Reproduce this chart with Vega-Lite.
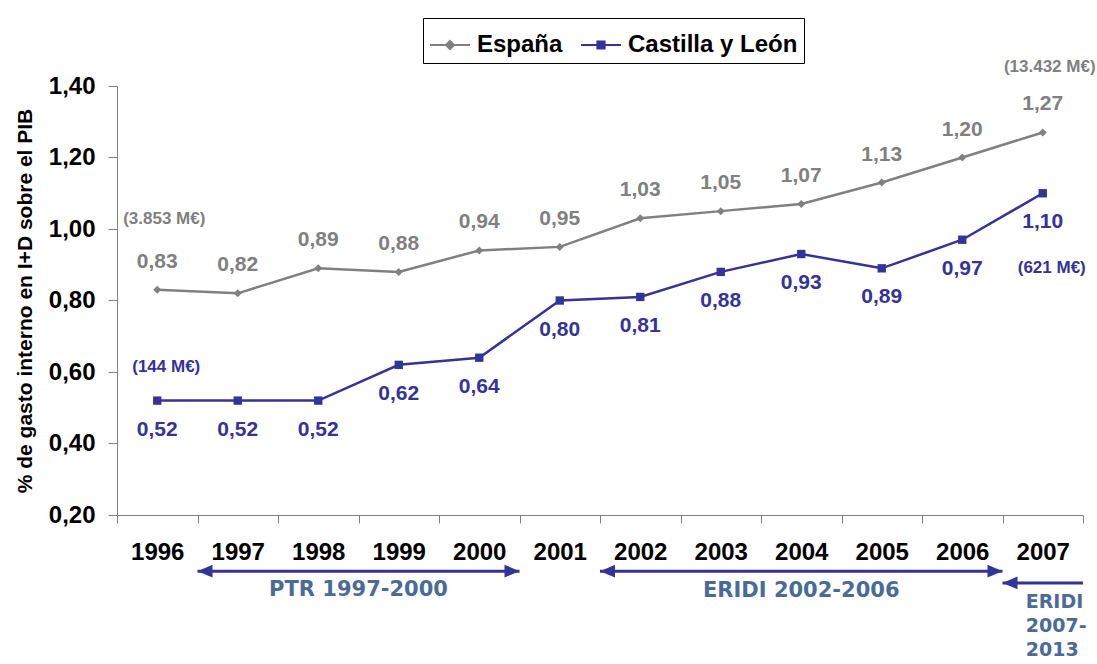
{
  "$schema": "https://vega.github.io/schema/vega-lite/v6.json",
  "width": 966,
  "height": 429,
  "autosize": "none",
  "padding": {"left": 117, "top": 86, "right": 14, "bottom": 149},
  "background": "white",
  "config": {"view": {"stroke": null}, "font": "Liberation Sans"},
  "datasets": {
    "series": [
      {"year": "1996", "serie": "España", "value": 0.83},
      {"year": "1997", "serie": "España", "value": 0.82},
      {"year": "1998", "serie": "España", "value": 0.89},
      {"year": "1999", "serie": "España", "value": 0.88},
      {"year": "2000", "serie": "España", "value": 0.94},
      {"year": "2001", "serie": "España", "value": 0.95},
      {"year": "2002", "serie": "España", "value": 1.03},
      {"year": "2003", "serie": "España", "value": 1.05},
      {"year": "2004", "serie": "España", "value": 1.07},
      {"year": "2005", "serie": "España", "value": 1.13},
      {"year": "2006", "serie": "España", "value": 1.20},
      {"year": "2007", "serie": "España", "value": 1.27},
      {"year": "1996", "serie": "Castilla y León", "value": 0.52},
      {"year": "1997", "serie": "Castilla y León", "value": 0.52},
      {"year": "1998", "serie": "Castilla y León", "value": 0.52},
      {"year": "1999", "serie": "Castilla y León", "value": 0.62},
      {"year": "2000", "serie": "Castilla y León", "value": 0.64},
      {"year": "2001", "serie": "Castilla y León", "value": 0.80},
      {"year": "2002", "serie": "Castilla y León", "value": 0.81},
      {"year": "2003", "serie": "Castilla y León", "value": 0.88},
      {"year": "2004", "serie": "Castilla y León", "value": 0.93},
      {"year": "2005", "serie": "Castilla y León", "value": 0.89},
      {"year": "2006", "serie": "Castilla y León", "value": 0.97},
      {"year": "2007", "serie": "Castilla y León", "value": 1.10}
    ],
    "notes": [
      {"year": "1996", "serie": "España", "pos": 1.028, "text": "(3.853 M€)"},
      {"year": "2007", "serie": "España", "pos": 1.453, "text": "(13.432 M€)"},
      {"year": "1996", "serie": "Castilla y León", "pos": 0.614, "text": "(144 M€)"},
      {"year": "2007", "serie": "Castilla y León", "pos": 0.891, "text": "(621 M€)"}
    ],
    "plans": [
      {"start": "1997", "end": "2001"},
      {"start": "2002", "end": "2007"}
    ]
  },
  "layer": [
    {
      "data": {"name": "series"},
      "mark": {"type": "line", "strokeWidth": 2.5},
      "encoding": {
        "x": {
          "field": "year", "type": "ordinal", "title": null,
          "scale": {"type": "band", "paddingInner": 0, "paddingOuter": 0},
          "axis": {
            "labelAngle": 0, "labelFontSize": 24, "labelFontWeight": "bold", "labelColor": "black",
            "tickSize": 8, "tickBand": "extent", "tickColor": "#808080", "domainColor": "#808080",
            "labelPadding": 17, "grid": false, "labelOverlap": false
          }
        },
        "y": {
          "field": "value", "type": "quantitative",
          "scale": {"domain": [0.2, 1.4], "nice": false, "zero": false},
          "axis": {
            "title": "% de gasto interno en I+D sobre el  PIB",
            "values": [0.2, 0.4, 0.6, 0.8, 1.0, 1.2, 1.4],
            "labelExpr": "replace(format(datum.value,'.2f'),'.',',')",
            "labelFontSize": 24, "labelFontWeight": "bold", "labelColor": "black",
            "tickSize": 9, "tickColor": "#808080", "domainColor": "#808080",
            "labelPadding": 13, "grid": false,
            "titleFontSize": 21, "titleFontWeight": "bold", "titleColor": "black", "titlePadding": 13
          }
        },
        "color": {
          "field": "serie", "type": "nominal",
          "scale": {"domain": ["España", "Castilla y León"], "range": ["#808080", "#333399"]},
          "legend": {
            "title": null, "orient": "none", "legendX": 306, "legendY": -68,
            "direction": "horizontal", "columns": 2, "labelLimit": 400,
            "labelFontSize": 24, "labelFontWeight": "bold", "labelColor": "black",
            "symbolSize": 1600, "symbolStrokeWidth": 2,
            "strokeColor": "black", "padding": 6, "columnPadding": 14, "labelOffset": 6,
            "encode": {
              "symbols": {
                "update": {
                  "shape": {"signal": "datum.value === 'España' ? 'M-1,0H1M0,-0.2L0.2,0L0,0.2L-0.2,0Z' : 'M-1,0H1M-0.18,-0.18H0.18V0.18H-0.18Z'"},
                  "fill": {"signal": "datum.value === 'España' ? '#808080' : '#333399'"},
                  "stroke": {"signal": "datum.value === 'España' ? '#808080' : '#333399'"},
                  "opacity": {"value": 1},
                  "fillOpacity": {"value": 1}
                }
              }
            }
          }
        }
      }
    },
    {
      "data": {"name": "series"},
      "transform": [{"filter": "datum.serie === 'España'"}],
      "mark": {"type": "point", "shape": "diamond", "filled": true, "size": 64, "color": "#808080", "opacity": 1},
      "encoding": {
        "x": {"field": "year", "type": "ordinal", "title": null},
        "y": {"field": "value", "type": "quantitative"}
      }
    },
    {
      "data": {"name": "series"},
      "transform": [{"filter": "datum.serie === 'Castilla y León'"}],
      "mark": {"type": "point", "shape": "square", "filled": true, "size": 70, "color": "#333399", "opacity": 1},
      "encoding": {
        "x": {"field": "year", "type": "ordinal", "title": null},
        "y": {"field": "value", "type": "quantitative"}
      }
    },
    {
      "data": {"name": "series"},
      "transform": [
        {"filter": "datum.serie === 'España'"},
        {"calculate": "replace(format(datum.value,'.2f'),'.',',')", "as": "label"}
      ],
      "mark": {"type": "text", "dy": -28, "fontSize": 21, "fontWeight": "bold", "color": "#808080"},
      "encoding": {
        "x": {"field": "year", "type": "ordinal", "title": null},
        "y": {"field": "value", "type": "quantitative"},
        "text": {"field": "label"}
      }
    },
    {
      "data": {"name": "series"},
      "transform": [
        {"filter": "datum.serie === 'Castilla y León'"},
        {"calculate": "replace(format(datum.value,'.2f'),'.',',')", "as": "label"}
      ],
      "mark": {"type": "text", "dy": 29, "fontSize": 21, "fontWeight": "bold", "color": "#333399"},
      "encoding": {
        "x": {"field": "year", "type": "ordinal", "title": null},
        "y": {"field": "value", "type": "quantitative"},
        "text": {"field": "label"}
      }
    },
    {
      "data": {"name": "notes"},
      "transform": [{"filter": "datum.serie === 'España'"}],
      "mark": {"type": "text", "dx": 7, "fontSize": 17, "fontWeight": "bold", "color": "#808080"},
      "encoding": {
        "x": {"field": "year", "type": "ordinal", "title": null},
        "y": {"field": "pos", "type": "quantitative"},
        "text": {"field": "text"}
      }
    },
    {
      "data": {"name": "notes"},
      "transform": [{"filter": "datum.serie === 'Castilla y León'"}],
      "mark": {"type": "text", "dx": 9, "fontSize": 17, "fontWeight": "bold", "color": "#333399"},
      "encoding": {
        "x": {"field": "year", "type": "ordinal", "title": null},
        "y": {"field": "pos", "type": "quantitative"},
        "text": {"field": "text"}
      }
    },
    {
      "data": {"name": "plans"},
      "mark": {"type": "rule", "strokeWidth": 3, "color": "#333399"},
      "encoding": {
        "x": {"field": "start", "type": "ordinal", "title": null, "bandPosition": 0},
        "x2": {"field": "end", "bandPosition": 0},
        "y": {"datum": 0.043, "type": "quantitative"}
      }
    },
    {
      "data": {"name": "plans"},
      "mark": {"type": "point", "shape": "M0,0L2,-0.85L2,0.85Z", "filled": true, "size": 225, "color": "#333399", "opacity": 1},
      "encoding": {
        "x": {"field": "start", "type": "ordinal", "title": null, "bandPosition": 0},
        "y": {"datum": 0.043, "type": "quantitative"}
      }
    },
    {
      "data": {"name": "plans"},
      "mark": {"type": "point", "shape": "M0,0L-2,-0.85L-2,0.85Z", "filled": true, "size": 225, "color": "#333399", "opacity": 1},
      "encoding": {
        "x": {"field": "end", "type": "ordinal", "title": null, "bandPosition": 0},
        "y": {"datum": 0.043, "type": "quantitative"}
      }
    },
    {
      "data": {"values": [{"start": "2007"}]},
      "mark": {"type": "rule", "strokeWidth": 3, "color": "#333399"},
      "encoding": {
        "x": {"field": "start", "type": "ordinal", "title": null, "bandPosition": 0},
        "x2": {"field": "start", "bandPosition": 1},
        "y": {"datum": 0.0098, "type": "quantitative"}
      }
    },
    {
      "data": {"values": [{"start": "2007"}]},
      "mark": {"type": "point", "shape": "M0,0L2,-0.85L2,0.85Z", "filled": true, "size": 225, "color": "#333399", "opacity": 1},
      "encoding": {
        "x": {"field": "start", "type": "ordinal", "title": null, "bandPosition": 0},
        "y": {"datum": 0.0098, "type": "quantitative"}
      }
    },
    {
      "data": {"values": [{"mid": "1999", "text": "PTR 1997-2000"}]},
      "mark": {"type": "text", "font": "DejaVu Sans", "fontSize": 21, "fontWeight": "bold", "color": "#4A6B98"},
      "encoding": {
        "x": {"field": "mid", "type": "ordinal", "title": null, "bandPosition": 0},
        "y": {"datum": -0.01, "type": "quantitative"},
        "text": {"field": "text"}
      }
    },
    {
      "data": {"values": [{"mid": "2004", "text": "ERIDI 2002-2006"}]},
      "mark": {"type": "text", "font": "DejaVu Sans", "fontSize": 21, "fontWeight": "bold", "color": "#4A6B98"},
      "encoding": {
        "x": {"field": "mid", "type": "ordinal", "title": null},
        "y": {"datum": -0.012, "type": "quantitative"},
        "text": {"field": "text"}
      }
    },
    {
      "data": {"values": [{"mid": "2007", "text": "ERIDI\n2007-\n2013"}]},
      "mark": {"type": "text", "font": "DejaVu Sans", "fontSize": 19, "fontWeight": "bold", "color": "#4A6B98", "align": "left", "baseline": "top", "dx": -17, "lineBreak": "\n", "lineHeight": 24},
      "encoding": {
        "x": {"field": "mid", "type": "ordinal", "title": null},
        "y": {"datum": -0.0185, "type": "quantitative"},
        "text": {"field": "text"}
      }
    }
  ]
}
